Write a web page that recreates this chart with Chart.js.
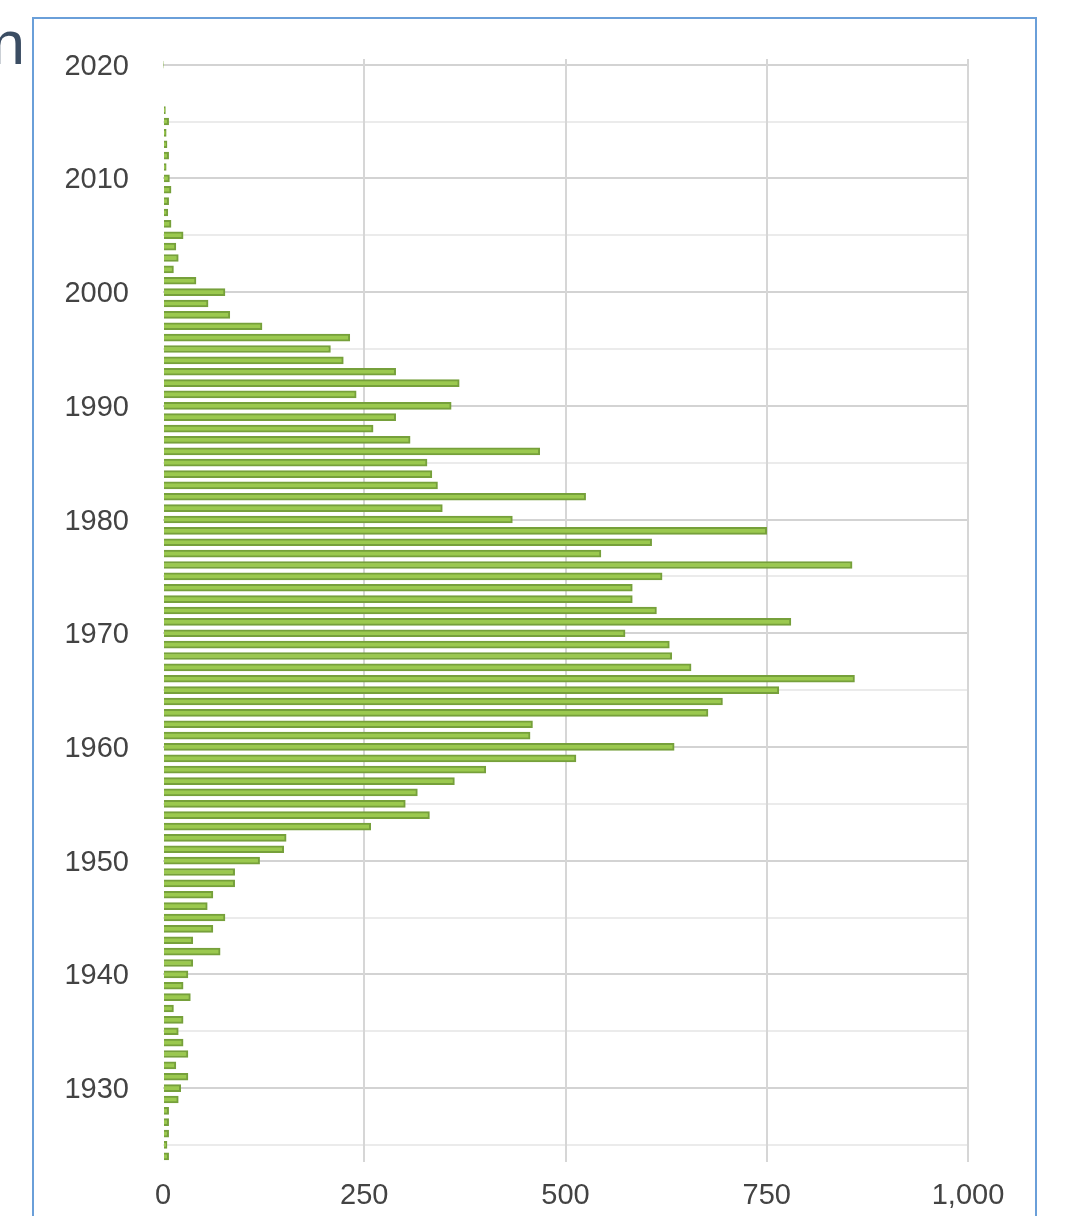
<!DOCTYPE html>
<html><head><meta charset="utf-8">
<script src="https://cdn.jsdelivr.net/npm/chart.js@4/dist/chart.umd.min.js"></script>
<style>
html,body{margin:0;padding:0;background:#fff;width:1067px;height:1216px;overflow:hidden;}
#frame{position:absolute;left:32px;top:17px;width:1001px;height:1300px;border:2px solid #6a9fd9;}
#title{position:absolute;left:25px;top:12px;transform:translateX(-100%);font:62px/1 "Liberation Sans",Arial,sans-serif;color:#3b4d63;white-space:nowrap;}
#c{position:absolute;left:0;top:0;}
</style></head><body>
<div id="frame"></div>
<div id="title">n</div>
<canvas id="c" width="1067" height="1216"></canvas>
<script>
// Categories (years)
const years = [1924,1925,1926,1927,1928,1929,1930,1931,1932,1933,1934,1935,1936,1937,1938,1939,
  1940,1941,1942,1943,1944,1945,1946,1947,1948,1949,1950,1951,1952,1953,1954,1955,1956,1957,1958,1959,
  1960,1961,1962,1963,1964,1965,1966,1967,1968,1969,1970,1971,1972,1973,1974,1975,1976,1977,1978,1979,
  1980,1981,1982,1983,1984,1985,1986,1987,1988,1989,1990,1991,1992,1993,1994,1995,1996,1997,1998,1999,
  2000,2001,2002,2003,2004,2005,2006,2007,2008,2009,2010,2011,2012,2013,2014,2015,2016,2017,2018,2019,2020];
// Series values (one per year)
const counts = [7,5,7,7,7,19,22,31,16,31,25,19,25,13,34,25,
  31,37,71,37,62,77,55,62,89,89,120,150,153,258,331,301,316,362,401,513,
  635,456,459,677,695,765,859,656,632,629,574,780,613,583,583,620,856,544,607,750,
  434,347,525,341,334,328,468,307,261,289,358,240,368,289,224,208,232,123,83,56,
  77,41,13,19,16,25,10,6,7,10,8,4,7,5,4,7,3,null,null,null,1];
// Tick values
const yTickYears = [1925,1930,1935,1940,1945,1950,1955,1960,1965,1970,1975,1980,1985,1990,1995,2000,2005,2010,2015,2020];
const xTickValues = [0,250,500,750,1000];

Chart.defaults.font.family = '"Liberation Sans", Arial, sans-serif';

new Chart(document.getElementById('c'), {
  type: 'bar',
  data: {
    datasets: [{
      data: years.map((y, i) => ({ x: counts[i], y: y })),
      backgroundColor: '#9bc94f',
      borderColor: '#76a03b',
      borderWidth: 2,
      borderSkipped: 'start',
      barThickness: 7
    }]
  },
  options: {
    indexAxis: 'y',
    responsive: false,
    animation: false,
    devicePixelRatio: 1,
    layout: { padding: { top: 59, right: 99, left: 0, bottom: 0 } },
    plugins: { legend: { display: false }, tooltip: { enabled: false } },
    scales: {
      y: {
        type: 'linear',
        min: 1923.5,
        max: 2020.5,
        offset: false,
        afterBuildTicks: (scale) => { scale.ticks = yTickYears.map(v => ({ value: v })); },
        afterFit: (scale) => { scale.width = 163; },
        border: { display: false },
        grid: {
          offset: false,
          drawTicks: false,
          lineWidth: 2,
          color: (ctx) => (ctx.tick && ctx.tick.value % 10 === 0) ? '#d3d3d3' : '#ebebeb'
        },
        ticks: {
          padding: 34,
          labelOffset: 2,
          color: '#434343',
          font: { size: 29 },
          callback: (v) => (v % 10 === 0 ? String(v) : '')
        }
      },
      x: {
        type: 'linear',
        min: 0,
        max: 1000,
        afterBuildTicks: (scale) => { scale.ticks = xTickValues.map(v => ({ value: v })); },
        afterFit: (scale) => { scale.height = 54; },
        border: { display: false },
        grid: {
          drawTicks: false,
          lineWidth: 2,
          color: (ctx) => (ctx.tick && ctx.tick.value === 0) ? 'rgba(0,0,0,0)' : '#d6d6d6'
        },
        ticks: {
          padding: 17,
          color: '#434343',
          font: { size: 29 },
          maxRotation: 0,
          callback: (v) => v.toLocaleString('en-US')
        }
      }
    }
  }
});
</script>
</body></html>
